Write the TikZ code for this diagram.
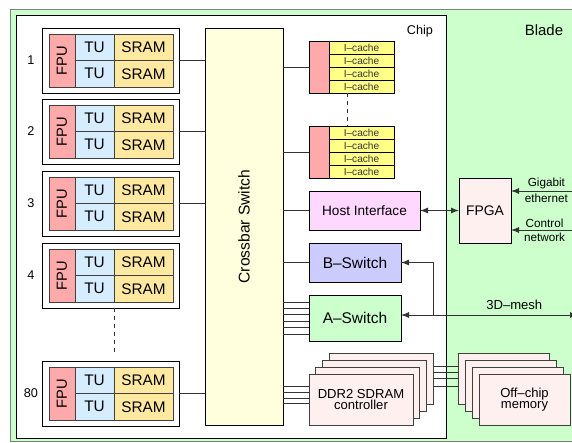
\documentclass[tikz,border=0pt]{standalone}
\usepackage{fontspec}
\setmainfont{Liberation Sans}
\usepackage{tikz}
\usetikzlibrary{arrows.meta,positioning,calc}
\usepackage{xcolor}
\definecolor{bladebg}{HTML}{CCFFCC}
\definecolor{fpured}{HTML}{FFAAAA}
\definecolor{tublue}{HTML}{D6ECFF}
\definecolor{sramgold}{HTML}{FFE8A0}
\definecolor{xbarbg}{HTML}{FFFFDD}
\definecolor{icyellow}{HTML}{FFFF88}
\definecolor{hostbg}{HTML}{FFD8FF}
\definecolor{pinkbg}{HTML}{FFF0F0}
\definecolor{bswbg}{HTML}{CCCCFF}
\definecolor{aswbg}{HTML}{CCFFCC}
\newcommand\fsz[2]{\fontsize{#1}{#2}\selectfont}
\tikzset{
  sz/.style 2 args={minimum width=#1*0.75pt, minimum height=#2*0.75pt},
  blk/.style={draw=black, inner sep=0pt, outer sep=0pt, anchor=north west},
  cell/.style={blk, draw=black!75},
  wire/.style={draw=black!80},
  arr/.style={wire, -{Latex[length=6pt,width=4.5pt]}},
}

\begin{document}
\begin{tikzpicture}[x=0.75pt, y=-0.75pt, line width=0.75pt]
  \useasboundingbox (0,0) rectangle (572,443);
  \node[blk, draw=black!50, fill=bladebg, sz={570}{432}] (blade) at (10,9) {};
  \node[blk, fill=white, sz={430}{423}] (chip) at (16,15) {};
  \node[font=\fsz{9.5}{10}] at (420,31) {Chip};
  \node[font=\fsz{11.2}{12}] at (544,30) {Blade};

  \node[blk, fill=xbarbg, sz={78}{397}] (xbar) at (205,28) {};
  \node[rotate=90, font=\fsz{11.7}{12}] at (xbar) {Crossbar Switch};

  \foreach \n/\t in {1/28, 2/99, 3/171, 4/243, 80/361} {
    \node[blk, sz={137}{65}] (core\n) at (42,\t) {};
    \node[cell, fill=fpured, sz={26}{53}] (fpu\n) at (49,\t+6) {};
    \node[rotate=90, font=\fsz{11}{12}] at (fpu\n) {FPU};
    \node[cell, fill=tublue, sz={39}{26.5}, font=\fsz{11.5}{12}] (tua\n) at (75,\t+6) {TU};
    \node[cell, fill=tublue, sz={39}{26.5}, font=\fsz{11.5}{12}] (tub\n) at (75,\t+32.5) {TU};
    \node[cell, fill=sramgold, sz={59}{26.5}, font=\fsz{11.5}{12}] (srama\n) at (114,\t+6) {SRAM};
    \node[cell, fill=sramgold, sz={59}{26.5}, font=\fsz{11.5}{12}] (sramb\n) at (114,\t+32.5) {SRAM};
    \node[font=\fsz{9.5}{10}] (num\n) at ($(core\n.west)+(-11,0)$) {\n};
  }
  \foreach \n in {1,2,3,80}
    \draw[wire] (core\n.east) -- (core\n.east -| xbar.west);
  \draw[wire, dashed, shorten >=4pt] (tub4.south east |- core4.south) -- (tub4.south east |- core80.north);

  \foreach \g/\t in {1/41, 2/126} {
    \node[blk, fill=fpured, sz={20}{52}] (icb\g) at (309,\t) {};
    \foreach \k in {1,...,4}
      \node[blk, fill=icyellow, sz={65}{13}, font=\fsz{7.6}{8}, text=black!80] (ic\g-\k) at (329,\t+13*\k-13) {I\textendash cache};
    \draw[wire] (xbar.east |- icb\g.west) -- (icb\g.west);
  }
  \draw[wire, dashed] ([xshift=14pt]ic1-4.south west) -- ([xshift=14pt]ic1-4.south west |- ic2-1.north);

  \node[blk, fill=hostbg, sz={111}{39}, font=\fsz{10.2}{11}] (host) at (309,191) {Host Interface};
  \node[blk, fill=pinkbg, sz={52}{65}, font=\fsz{10.4}{11}] (fpga) at (459,178) {FPGA};
  \node[blk, fill=bswbg, sz={92}{39}, font=\fsz{11.6}{12}] (bswitch) at (309,243) {B\textendash Switch};
  \node[blk, fill=aswbg, sz={92}{46}, font=\fsz{11.6}{12}] (aswitch) at (309,295) {A\textendash Switch};

  \draw[wire] (xbar.east |- host.west) -- (host.west);
  \draw[wire] (xbar.east |- bswitch.west) -- (bswitch.west);
  \foreach \dy in {12,7.2,2.4,-2.4,-7.2,-12}
    \draw[wire] ([yshift=\dy pt]aswitch.west) -- ([yshift=\dy pt]aswitch.west -| xbar.east);
  \draw[wire, {Latex[length=6pt,width=4.5pt]}-{Latex[length=6pt,width=4.5pt]}] (host.east) -- (host.east -| fpga.west);

  \coordinate (gbe) at (572,191);
  \coordinate (ctl) at (572,230);
  \coordinate (mesh) at (578,315);
  \coordinate (br) at (433,315);
  \draw[arr] (gbe) -- node[pos=0.42, above, inner sep=1.5pt, font=\fsz{8.8}{9}] {Gigabit}
    node[pos=0.42, below, inner sep=1.5pt, font=\fsz{8.8}{9}] {ethernet} (gbe -| fpga.east);
  \draw[arr] (ctl) -- node[pos=0.45, above, inner sep=1.5pt, font=\fsz{8.8}{9}] {Control}
    node[pos=0.45, below, inner sep=1.5pt, font=\fsz{8.8}{9}] {network} (ctl -| fpga.east);
  \draw[wire, {Latex[length=6pt,width=4.5pt]}-{Latex[length=6pt,width=4.5pt]}] (aswitch.east |- mesh) -- node[pos=0.64, above, inner sep=4pt, font=\fsz{9.8}{10}] {3D\textendash mesh} (mesh);
  \draw[arr] (br) |- (bswitch.east);

  \foreach \k in {3,2,1} {
    \node[blk, draw=black!75, fill=pinkbg, sz={104}{51}] (ddr\k) at (309+6.67*\k,374-6.67*\k) {};
    \node[blk, draw=black!75, fill=pinkbg, sz={91}{51}] (mem\k) at (479-6.67*\k,374-6.67*\k) {};
  }
  \node[blk, draw=black!75, fill=pinkbg, sz={104}{51}, align=center, font=\fsz{9.8}{8.4}] (ddr0) at (309,374) {DDR2 SDRAM\\controller};
  \node[blk, draw=black!75, fill=pinkbg, sz={91}{51}, align=center, font=\fsz{9.8}{8.4}] (mem0) at (479,374) {Off\textendash chip\\memory};
  \foreach \dy in {9.4,5.2,1.1,-3}
    \draw[wire] ([yshift=\dy pt]ddr0.west) -- ([yshift=\dy pt]ddr0.west -| xbar.east);
  \foreach \dy in {9.4,4.9,0.4,-4.9}
    \draw[wire] ([yshift=\dy pt]ddr3.east) -- ([yshift=\dy pt]ddr3.east -| mem3.west);
\end{tikzpicture}
\end{document}
